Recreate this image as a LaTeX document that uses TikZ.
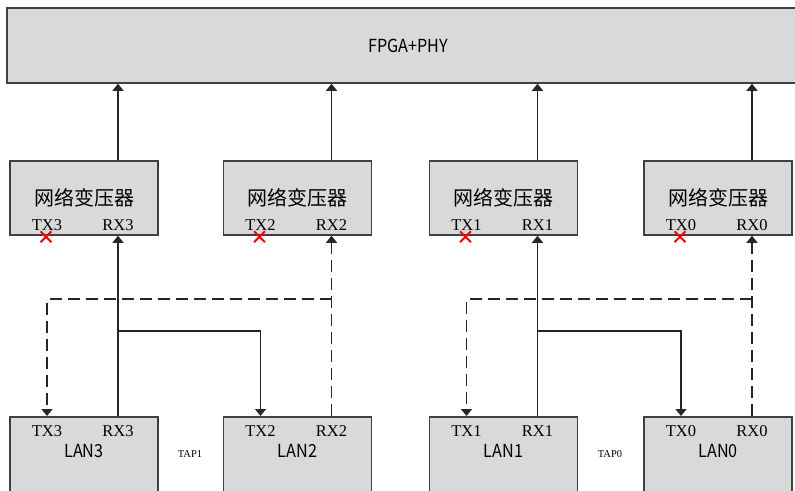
\documentclass[tikz,border=0pt]{standalone}
\usepackage{fontspec}
\setmainfont{Liberation Serif}
\newfontfamily\cjk{Noto Sans CJK SC}
\newfontfamily\hei[FakeStretch=0.9]{Noto Sans CJK SC}
\usetikzlibrary{calc}
\usetikzlibrary{positioning}
\usetikzlibrary{arrows.meta}
\usetikzlibrary{shapes.misc}
\tikzstyle{boxnode} = [draw=black!75, fill=black!15, line width=1.5pt, rectangle, inner sep=0pt]
\tikzstyle{trnode} = [boxnode, minimum width=148pt, minimum height=74pt, font=\cjk\fontsize{20}{24}\selectfont]
\tikzstyle{lannode} = [boxnode, minimum width=148pt, minimum height=90pt, anchor=north]
\tikzstyle{portnode} = [inner sep=0pt, font=\fontsize{16.5}{18}\selectfont]
\tikzstyle{namenode} = [inner sep=0pt, font=\hei\fontsize{18}{20}\selectfont]
\tikzstyle{tapnode} = [inner sep=0pt, font=\fontsize{10.5}{12}\selectfont]
\tikzstyle{txcut} = [draw=red, cross out, line width=1.8pt, minimum size=9pt, inner sep=0pt]
\tikzstyle{link} = [black!85, line width=1.4pt, -{Triangle[width=11pt,length=7pt]}]
\tikzstyle{spare} = [link, dash pattern=on 12pt off 6pt]

\begin{document}
\begin{tikzpicture}[x=1pt, y=-1pt]
  \useasboundingbox (0,0) rectangle (795,490);

  \node[boxnode, namenode, minimum width=802pt, minimum height=75pt] (fpga) at (408,45.5) {FPGA+PHY};

  % transformers
  \node[trnode] (tr3) at (84,198) {网络变压器};
  \node[trnode] (tr2) at (297.5,198) {网络变压器};
  \node[trnode] (tr1) at (503.5,198) {网络变压器};
  \node[trnode] (tr0) at (718,198) {网络变压器};
  \node[portnode] (tr3tx) at ($(tr3)+(-37,27)$) {TX3};
  \node[portnode] (tr3rx) at ($(tr3)+(34,27)$) {RX3};
  \node[portnode] (tr2tx) at ($(tr2)+(-37,27)$) {TX2};
  \node[portnode] (tr2rx) at ($(tr2)+(34,27)$) {RX2};
  \node[portnode] (tr1tx) at ($(tr1)+(-37,27)$) {TX1};
  \node[portnode] (tr1rx) at ($(tr1)+(34,27)$) {RX1};
  \node[portnode] (tr0tx) at ($(tr0)+(-37,27)$) {TX0};
  \node[portnode] (tr0rx) at ($(tr0)+(34,27)$) {RX0};
  \node[txcut] (cut3) at ($(tr3.south -| tr3tx)+(-1,1)$) {};
  \node[txcut] (cut2) at ($(tr2.south -| tr2tx)+(-1,1)$) {};
  \node[txcut] (cut1) at ($(tr1.south -| tr1tx)+(-1,1)$) {};
  \node[txcut] (cut0) at ($(tr0.south -| tr0tx)+(-1,1)$) {};

  % lan ports
  \node[lannode] (lan3) at (84,416) {};
  \node[lannode] (lan2) at (297.5,416) {};
  \node[lannode] (lan1) at (503.5,416) {};
  \node[lannode] (lan0) at (718,416) {};
  \node[portnode] (lan3tx) at ($(lan3.north)+(-37,15)$) {TX3};
  \node[portnode] (lan3rx) at ($(lan3.north)+(34,15)$) {RX3};
  \node[portnode] (lan2tx) at ($(lan2.north)+(-37,15)$) {TX2};
  \node[portnode] (lan2rx) at ($(lan2.north)+(34,15)$) {RX2};
  \node[portnode] (lan1tx) at ($(lan1.north)+(-37,15)$) {TX1};
  \node[portnode] (lan1rx) at ($(lan1.north)+(34,15)$) {RX1};
  \node[portnode] (lan0tx) at ($(lan0.north)+(-37,15)$) {TX0};
  \node[portnode] (lan0rx) at ($(lan0.north)+(34,15)$) {RX0};
  \node[namenode] (lan3name) at ($(lan3.north)+(0,35)$) {LAN3};
  \node[namenode] (lan2name) at ($(lan2.north)+(0,35)$) {LAN2};
  \node[namenode] (lan1name) at ($(lan1.north)+(0,35)$) {LAN1};
  \node[namenode] (lan0name) at ($(lan0.north)+(0,35)$) {LAN0};
  \node[tapnode] (tap1) at (190,454) {TAP1};
  \node[tapnode] (tap0) at (610,454) {TAP0};

  \draw[link] (tr3.north -| tr3rx) -- (fpga.south -| tr3rx);
  \draw[link] (tr2.north -| tr2rx) -- (fpga.south -| tr2rx);
  \draw[link] (tr1.north -| tr1rx) -- (fpga.south -| tr1rx);
  \draw[link] (tr0.north -| tr0rx) -- (fpga.south -| tr0rx);

  % tap1
  \draw[link] (lan3.north -| lan3rx) -- (tr3.south -| tr3rx);
  \draw[link] ($(lan3.north -| lan3rx)+(0,-85)$) -| (lan2.north -| lan2tx);
  \draw[spare] (lan2.north -| lan2rx) -- (tr2.south -| tr2rx);
  \draw[spare] ($(lan2.north -| lan2rx)+(0,-117)$) -| (lan3.north -| lan3tx);

  % tap0
  \draw[link] (lan1.north -| lan1rx) -- (tr1.south -| tr1rx);
  \draw[link] ($(lan1.north -| lan1rx)+(0,-85)$) -| (lan0.north -| lan0tx);
  \draw[spare] (lan0.north -| lan0rx) -- (tr0.south -| tr0rx);
  \draw[spare] ($(lan0.north -| lan0rx)+(0,-117)$) -| (lan1.north -| lan1tx);
\end{tikzpicture}
\end{document}
